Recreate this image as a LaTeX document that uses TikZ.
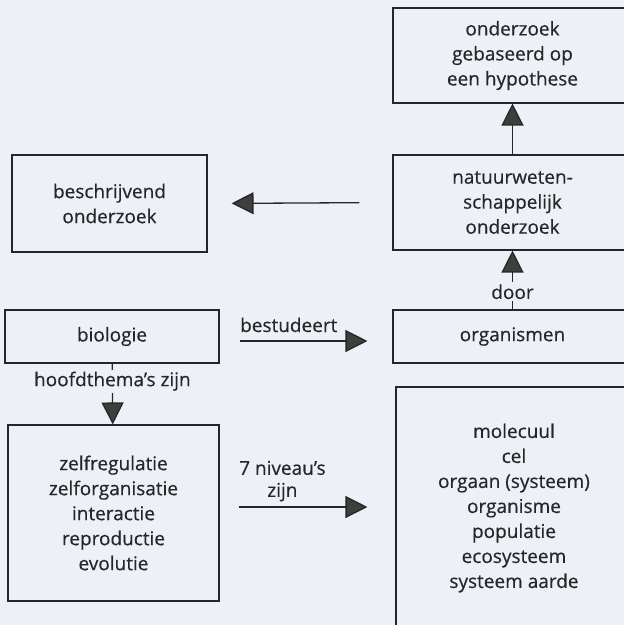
\documentclass[tikz,border=0pt]{standalone}
\usepackage{fontspec}
\setmainfont{Open Sans}[FakeBold=0.4]
\usetikzlibrary{arrows.meta}
\definecolor{bg}{RGB}{237,241,247}
\definecolor{ink}{RGB}{38,38,38}
\definecolor{tipgray}{RGB}{62,62,62}

\begin{document}
\begin{tikzpicture}[x=1pt,y=-1pt,
  font=\fontsize{19}{25}\selectfont,color=ink,
  box/.style={draw=ink,line width=1.1pt,align=center,inner sep=0pt},
  link/.style={-{Triangle[length=22pt,width=22pt,fill=tipgray]},draw=ink,line width=1.3pt},
  lbl/.style={fill=bg,inner sep=2pt}]
\useasboundingbox (0,0) rectangle (624,625);
\fill[bg] (0,0) rectangle (624,625);
\node[box,minimum width=239pt,minimum height=95pt] (hypothese) at (512.5,55.5) {onderzoek\\gebaseerd op\\een hypothese};
\node[box,minimum width=239pt,minimum height=95pt] (natuur) at (512.5,202.5) {natuurweten-\\schappelijk\\onderzoek};
\node[box,minimum width=195pt,minimum height=97pt] (beschrijvend) at (109.5,203.5) {beschrijvend\\onderzoek};
\node[box,minimum width=214pt,minimum height=53pt] (biologie) at (112,336.5) {biologie};
\node[box,minimum width=239pt,minimum height=53pt] (organismen) at (512.5,336.5) {organismen};
\node[box,minimum width=211pt,minimum height=176pt] (themas) at (113.5,513) {zelfregulatie\\zelforganisatie\\interactie\\reproductie\\evolutie};
\node[box,minimum width=236pt,minimum height=242pt] (niveaus) at (514,508) {molecuul\\cel\\orgaan (systeem)\\organisme\\populatie\\ecosysteem\\systeem aarde};
\draw[link] (natuur) -- (hypothese);
\draw[link] (organismen) -- node[lbl,pos=0.3] {door} (natuur);
\draw[link,shorten <=33pt,shorten >=24pt] (natuur.west) -- (beschrijvend.east);
\draw[link,shorten <=20pt,shorten >=25pt] ([yshift=-4.5pt]biologie.east) -- node[pos=0,anchor=base west,inner sep=0pt,xshift=20pt,yshift=9pt] {bestudeert} ([yshift=-4.5pt]organismen.west);
\draw[link] (biologie) -- node[lbl,pos=0.29] {hoofdthema’s zijn} (themas);
\draw[link,shorten <=19pt,shorten >=28pt] ([yshift=6pt]themas.east) -- node[pos=0,anchor=south west,inner sep=0pt,xshift=19pt,yshift=5pt,align=center,font=\fontsize{19}{22}\selectfont] {7 niveau’s\\zijn} ([yshift=6pt]themas.east -| niveaus.west);
\end{tikzpicture}
\end{document}
